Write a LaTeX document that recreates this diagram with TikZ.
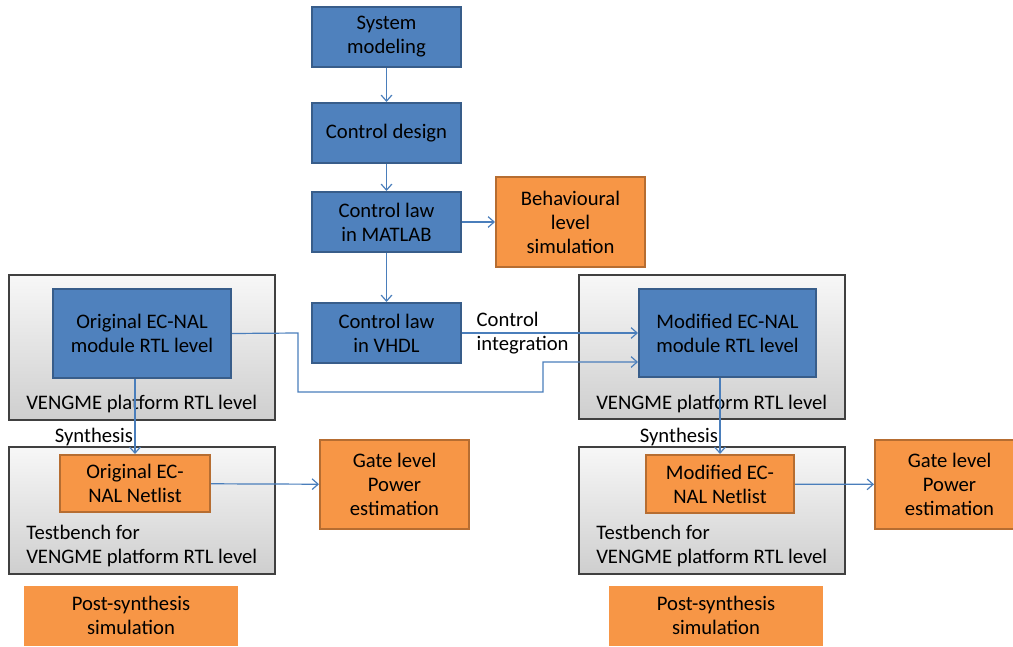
\documentclass[tikz,border=0pt]{standalone}
\usepackage{fontspec}
\setmainfont{Carlito}
\usetikzlibrary{arrows.meta}
\definecolor{bfill}{HTML}{4F81BD}\definecolor{bline}{HTML}{385D8A}
\definecolor{ofill}{HTML}{F79646}\definecolor{oline}{HTML}{B66D31}
\definecolor{aline}{HTML}{4A7EBB}
\newcommand{\ArrTip}{Straight Barb[length=4.5pt,width=8pt]}
\tikzset{bbox/.style={draw=bline,line width=1.5pt,fill=bfill,align=center,inner sep=0pt,minimum width=111.75pt,minimum height=45pt}}
\tikzset{obox/.style={bbox,draw=oline,fill=ofill}}
\tikzset{gbox/.style={draw=black!75,line width=1pt,top color=gray!6,bottom color=gray!38,inner sep=0pt,minimum width=199.5pt}}
\tikzset{arr/.style={draw=aline,line width=.9pt,-{\ArrTip}}}
\begin{document}
\begin{tikzpicture}[x=.75pt,y=-.75pt,font=\fontsize{15.5}{18}\selectfont]
\useasboundingbox (0,0) rectangle (1013,646);
% platform boxes
\node[gbox,minimum height=108.75pt](pl1)at(142,347.5){};
\node[gbox,minimum height=108pt](pr1)at(712,347){};
\node[gbox,minimum height=95.25pt](pl2)at(142,510.5){};
\node[gbox,minimum height=95.25pt](pr2)at(712,510.5){};
\node[anchor=west,inner sep=0pt](tl1)at(26,404){VENGME platform RTL level};
\node[anchor=west,inner sep=0pt](tr1)at(596,404){VENGME platform RTL level};
\node[anchor=west,inner sep=0pt,align=left](tl2)at(26,546){Testbench for\\VENGME platform RTL level};
\node[anchor=west,inner sep=0pt,align=left](tr2)at(596,546){Testbench for\\VENGME platform RTL level};
% flow
\node[bbox](sys)at(386.5,37){System\\modeling};
\node[bbox](des)at(386.5,133){Control design};
\node[bbox](mat)at(386.5,222){Control law\\in MATLAB};
\node[obox,minimum height=67.5pt](beh)at(570.5,222){Behavioural\\level\\simulation};
\node[bbox](vhdl)at(386.5,333){Control law\\in VHDL};
\node[bbox,minimum width=133.5pt,minimum height=66.75pt](orig)at(142,333.5){Original EC-NAL\\module RTL level};
\node[bbox,minimum width=132.75pt,minimum height=66pt](mod)at(727.5,333){Modified EC-NAL\\module RTL level};
\node[obox,minimum width=112.5pt,minimum height=42.75pt](onet)at(135,483.5){Original EC-\\NAL Netlist};
\node[obox,minimum width=111pt,minimum height=43.5pt](mnet)at(720,484){Modified EC-\\NAL Netlist};
\node[obox,minimum height=66.75pt](gl)at(394.5,484.5){Gate level\\Power\\estimation};
\node[obox,minimum height=66.75pt](gr)at(949.5,484.5){Gate level\\Power\\estimation};
\node[obox,draw=none,minimum width=160.5pt](psl)at(131,615.5){Post-synthesis\\simulation};
\node[obox,draw=none,minimum width=160.5pt](psr)at(716,615.5){Post-synthesis\\simulation};
\draw[arr](sys)--(des);\draw[arr](des)--(mat);\draw[arr](mat)--(beh);\draw[arr](mat)--(vhdl);
\draw[arr](vhdl)--node[pos=.08,anchor=west,align=left,inner sep=0pt]{Control\\integration}(mod);
\draw[arr](orig.east)--(298,333)|-(543,392)|-(mod.west|-0,362);
\draw[arr](orig.south-|onet.north)--node[pos=.77,left,inner sep=1pt]{Synthesis}(onet.north);
\draw[arr](mod.south-|mnet.north)--node[pos=.77,left,inner sep=1pt]{Synthesis}(mnet.north);
\draw[arr](onet)--(gl);\draw[arr](mnet)--(gr);
\end{tikzpicture}
\end{document}
